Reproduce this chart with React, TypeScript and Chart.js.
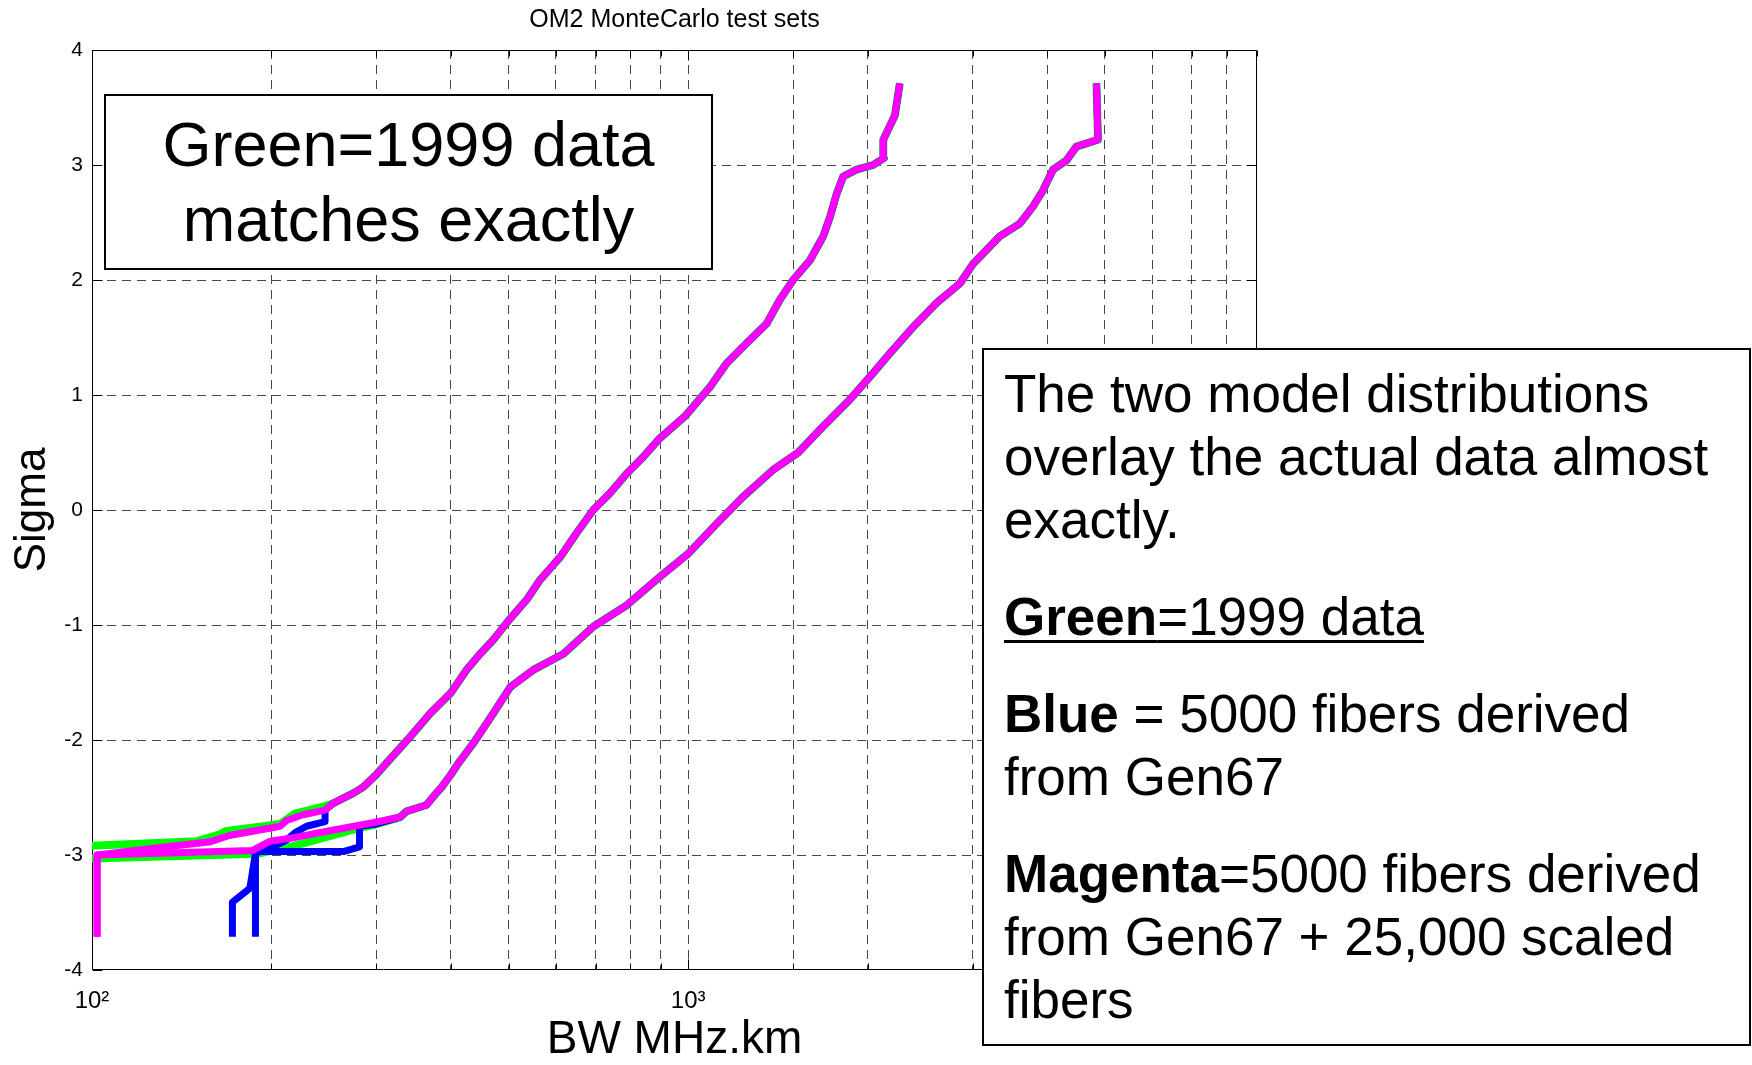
import React, { useEffect, useRef } from 'react';
import { Chart, registerables } from 'chart.js';

Chart.register(...registerables);

const FONT = '"Liberation Sans", Arial, Helvetica, sans-serif';

// Axis settings
const xMin = 100;
const xMax = 9000;
const yMin = -4;
const yMax = 4;
const xTickLabels: Record<number, string> = { 100: '10²', 1000: '10³' };

// ---- Curve A (left distribution) : shared upper part (BW MHz.km, sigma)
const trunkA_bw = [254, 275, 285, 300, 312, 342, 369, 400, 425, 448, 471, 500, 536, 564, 610, 650, 693, 739, 790, 840, 895, 990, 1088, 1160, 1253, 1354, 1426, 1500, 1600, 1685, 1730, 1775, 1820, 1916, 2043, 2130, 2125, 2222, 2265];
const trunkA_sigma = [-2.55, -2.46, -2.41, -2.30, -2.20, -1.97, -1.77, -1.59, -1.39, -1.25, -1.13, -0.96, -0.78, -0.61, -0.41, -0.20, 0.0, 0.145, 0.32, 0.46, 0.62, 0.82, 1.07, 1.275, 1.45, 1.62, 1.83, 2.0, 2.17, 2.38, 2.55, 2.75, 2.90, 2.96, 3.0, 3.06, 3.22, 3.43, 3.71];

// ---- Curve B (right distribution) : shared upper part
const trunkB_bw = [329, 337, 364, 374, 386, 400, 412, 436, 471, 503, 550, 618, 693, 788, 897, 1000, 1116, 1237, 1389, 1530, 1665, 1867, 2043, 2178, 2384, 2610, 2856, 3006, 3332, 3600, 3790, 3938, 4094, 4311, 4480, 4870, 4841];
const trunkB_sigma = [-2.67, -2.62, -2.565, -2.49, -2.41, -2.30, -2.20, -2.03, -1.77, -1.54, -1.39, -1.25, -1.015, -0.83, -0.58, -0.38, -0.12, 0.116, 0.35, 0.50, 0.70, 0.96, 1.19, 1.36, 1.59, 1.80, 1.97, 2.14, 2.38, 2.49, 2.64, 2.78, 2.96, 3.04, 3.16, 3.22, 3.71];

// ---- Lower tails, one per series
const greenA_bw = [80, 100, 150, 164, 168, 194, 207, 219, 244];
const greenA_sigma = [-2.93, -2.92, -2.88, -2.82, -2.79, -2.75, -2.73, -2.64, -2.58];
const blueA_bw = [172, 172, 184, 188, 201, 212, 220, 229, 246, 246];
const blueA_sigma = [-3.71, -3.41, -3.29, -2.985, -2.93, -2.87, -2.80, -2.75, -2.71, -2.61];
const magentaA_bw = [102, 102, 128, 158, 170, 207, 212, 226, 246];
const magentaA_sigma = [-3.71, -3.0, -2.94, -2.885, -2.83, -2.75, -2.70, -2.65, -2.61];

const greenB_bw = [80, 100, 189, 215, 278, 296];
const greenB_sigma = [-3.04, -3.03, -2.99, -2.93, -2.77, -2.74];
const blueB_bw = [188, 188, 264, 281, 281, 300];
const blueB_sigma = [-3.71, -2.97, -2.97, -2.93, -2.75, -2.73];
const magentaB_bw = [102, 102, 186, 199, 215, 244, 296];
const magentaB_sigma = [-3.71, -3.0, -2.96, -2.88, -2.855, -2.80, -2.72];

const GREEN = '#00ff00';
const BLUE = '#0000ff';
const MAGENTA = '#ff00ff';

function pts(bw: number[], sg: number[]) {
  return bw.map((x, i) => ({ x, y: sg[i] }));
}

function series(label: string, color: string, width: number, order: number, data: { x: number; y: number }[]) {
  return {
    label,
    data,
    showLine: true,
    borderColor: color,
    backgroundColor: color,
    borderWidth: width,
    pointRadius: 0,
    pointHoverRadius: 0,
    tension: 0,
    borderJoinStyle: 'round' as const,
    borderCapStyle: 'butt' as const,
    clip: 0,
    order,
  };
}

const framePlugin = {
  id: 'matlabFrame',
  beforeDatasetsDraw(chart: any) {
    const { ctx, chartArea, scales } = chart;
    const { left, right, top, bottom } = chartArea;
    const L = Math.round(left) + 0.5;
    const R = Math.round(right) - 0.5;
    const T = Math.round(top) + 0.5;
    const B = Math.round(bottom) - 0.5;
    ctx.save();
    ctx.strokeStyle = '#000';
    ctx.lineWidth = 1;
    ctx.setLineDash([]);
    ctx.beginPath();
    for (const t of scales.x.ticks) {
      const v = t.value;
      const px = Math.round(scales.x.getPixelForValue(v)) + 0.5;
      const lg = Math.log10(v);
      const len = Math.abs(lg - Math.round(lg)) < 1e-9 ? 10 : 6;
      ctx.moveTo(px, B);
      ctx.lineTo(px, B - len);
      ctx.moveTo(px, T);
      ctx.lineTo(px, T + len);
    }
    for (const t of scales.y.ticks) {
      const py = Math.round(scales.y.getPixelForValue(t.value)) + 0.5;
      ctx.moveTo(L, py);
      ctx.lineTo(L + 10, py);
      ctx.moveTo(R, py);
      ctx.lineTo(R - 10, py);
    }
    ctx.stroke();
    ctx.beginPath();
    ctx.rect(L, T, R - L, B - T);
    ctx.stroke();
    ctx.restore();
  },
};

export default function App() {
  const ref = useRef<HTMLCanvasElement>(null);

  useEffect(() => {
    if (!ref.current) return;
    const gridColor = 'rgba(0,0,0,0.72)';
    const chart = new Chart(ref.current, {
      type: 'scatter',
      data: {
        datasets: [
          series('Green A (1999 data)', GREEN, 8, 3, pts([...greenA_bw, ...trunkA_bw], [...greenA_sigma, ...trunkA_sigma])),
          series('Green B (1999 data)', GREEN, 8, 3, pts([...greenB_bw, ...trunkB_bw], [...greenB_sigma, ...trunkB_sigma])),
          series('Blue A (Gen67)', BLUE, 7, 2, pts([...blueA_bw, ...trunkA_bw], [...blueA_sigma, ...trunkA_sigma])),
          series('Blue B (Gen67)', BLUE, 7, 2, pts([...blueB_bw, ...trunkB_bw], [...blueB_sigma, ...trunkB_sigma])),
          series('Magenta A', MAGENTA, 7, 1, pts([...magentaA_bw, ...trunkA_bw], [...magentaA_sigma, ...trunkA_sigma])),
          series('Magenta B', MAGENTA, 7, 1, pts([...magentaB_bw, ...trunkB_bw], [...magentaB_sigma, ...trunkB_sigma])),
        ] as any,
      },
      options: {
        animation: false,
        responsive: false,
        devicePixelRatio: 1,
        events: [],
        layout: { padding: { left: 0, top: 0, right: 495, bottom: 0 } },
        plugins: {
          legend: { display: false },
          tooltip: { enabled: false },
          title: {
            display: true,
            text: 'OM2 MonteCarlo test sets',
            fullSize: false,
            color: '#000',
            font: { family: FONT, size: 25, weight: 'normal', lineHeight: 1.2 },
            padding: { top: 5, bottom: 15 },
          },
        },
        scales: {
          x: {
            type: 'logarithmic',
            position: 'bottom',
            min: xMin,
            max: xMax,
            afterFit: (s: any) => {
              s.height = 95;
            },
            grid: {
              drawTicks: false,
              lineWidth: 1,
              color: (c: any) => {
                const v = c.tick ? c.tick.value : 0;
                return v <= xMin * 1.001 || v >= xMax * 0.999 ? 'rgba(0,0,0,0)' : gridColor;
              },
            },
            border: { display: false, dash: [9, 6] },
            ticks: {
              autoSkip: false,
              maxRotation: 0,
              minRotation: 0,
              padding: 19,
              color: '#000',
              font: { family: FONT, size: 24, lineHeight: 1 },
              callback: (v: any) => {
                const n = Number(v);
                for (const k of Object.keys(xTickLabels)) {
                  if (Math.abs(n - Number(k)) < 1e-6) return xTickLabels[Number(k)];
                }
                return '';
              },
            },
            title: {
              display: true,
              text: 'BW MHz.km',
              color: '#000',
              font: { family: FONT, size: 46, lineHeight: 1 },
              padding: { top: 0, bottom: 2 },
            },
          },
          y: {
            type: 'linear',
            position: 'left',
            min: yMin,
            max: yMax,
            afterFit: (s: any) => {
              s.width = 92;
            },
            grid: {
              drawTicks: false,
              lineWidth: 1,
              color: (c: any) => {
                const v = c.tick ? c.tick.value : 0;
                return v <= yMin || v >= yMax ? 'rgba(0,0,0,0)' : gridColor;
              },
            },
            border: { display: false, dash: [9, 6] },
            ticks: {
              stepSize: 1,
              padding: 9,
              color: '#000',
              font: { family: FONT, size: 21, lineHeight: 1 },
            },
            title: {
              display: true,
              text: 'Sigma',
              color: '#000',
              font: { family: FONT, size: 44, lineHeight: 1 },
              padding: { top: 11, bottom: 0 },
            },
          },
        },
      } as any,
      plugins: [framePlugin],
    });
    return () => chart.destroy();
  }, []);

  const boxText: React.CSSProperties = {
    fontFamily: FONT,
    color: '#000',
    whiteSpace: 'nowrap',
  };

  return (
    <div style={{ position: 'absolute', left: 0, top: 0, width: 1752, height: 1065, background: '#fff', overflow: 'hidden' }}>
      <canvas ref={ref} width={1752} height={1065} style={{ position: 'absolute', left: 0, top: 0, width: 1752, height: 1065 }} />
      <div
        style={{
          ...boxText,
          position: 'absolute',
          left: 104,
          top: 94,
          width: 609,
          height: 176,
          boxSizing: 'border-box',
          border: '2px solid #000',
          background: '#fff',
          fontSize: 63,
          lineHeight: '75px',
          textAlign: 'center',
          paddingTop: 11,
        }}
      >
        <div>Green=1999 data</div>
        <div>matches exactly</div>
      </div>
      <div
        style={{
          ...boxText,
          position: 'absolute',
          left: 982,
          top: 348,
          width: 769,
          height: 698,
          boxSizing: 'border-box',
          border: '2px solid #000',
          background: '#fff',
          fontSize: 53,
          lineHeight: '63px',
          paddingLeft: 20,
          paddingTop: 12,
        }}
      >
        <div>
          <div>The two model distributions</div>
          <div>overlay the actual data almost</div>
          <div>exactly.</div>
        </div>
        <div style={{ marginTop: 34 }}>
          <span style={{ textDecoration: 'underline', textDecorationThickness: 3, textUnderlineOffset: 5 }}>
            <b>Green</b>=1999 data
          </span>
        </div>
        <div style={{ marginTop: 34 }}>
          <div>
            <b>Blue</b> = 5000 fibers derived
          </div>
          <div>from Gen67</div>
        </div>
        <div style={{ marginTop: 34 }}>
          <div>
            <b>Magenta</b>=5000 fibers derived
          </div>
          <div>from Gen67 + 25,000 scaled</div>
          <div>fibers</div>
        </div>
      </div>
    </div>
  );
}
